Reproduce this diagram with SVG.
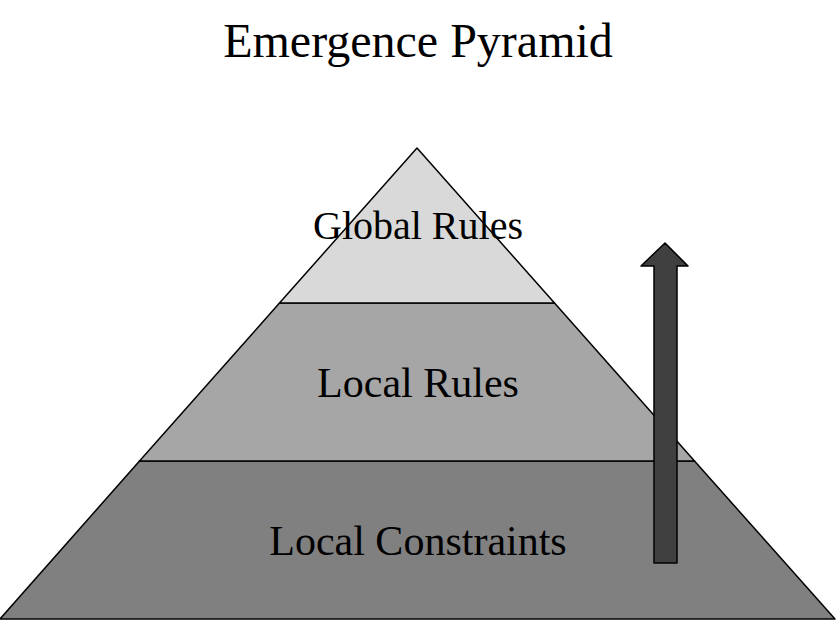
<svg xmlns="http://www.w3.org/2000/svg" width="836" height="644" viewBox="0 0 836 644">
<style>
.t{font-family:"Liberation Serif",serif;fill:#000;text-anchor:middle}
.l{stroke:#000;stroke-width:1.5;stroke-linejoin:round}
</style>
<rect width="836" height="644" fill="#fff"/>
<text class="t" x="418" y="57" font-size="48">Emergence Pyramid</text>
<g id="layer-bottom"><polygon class="l" points="139.5,461 694.5,461 835,619 0,619" fill="#808080"/><text class="t" x="418" y="555" font-size="42">Local Constraints</text></g>
<g id="layer-middle"><polygon class="l" points="279.5,303 554.5,303 694.5,461 139.5,461" fill="#a6a6a6"/><text class="t" x="418" y="397" font-size="42">Local Rules</text></g>
<g id="layer-top"><polygon class="l" points="417,148 554.5,303 279.5,303" fill="#d9d9d9"/><text class="t" x="418" y="239" font-size="40">Global Rules</text></g>
<g id="connectors"><polygon class="l" points="665,243 688,266 677,266 677,563 654,563 654,266 641,266" fill="#404040"/></g>
</svg>
